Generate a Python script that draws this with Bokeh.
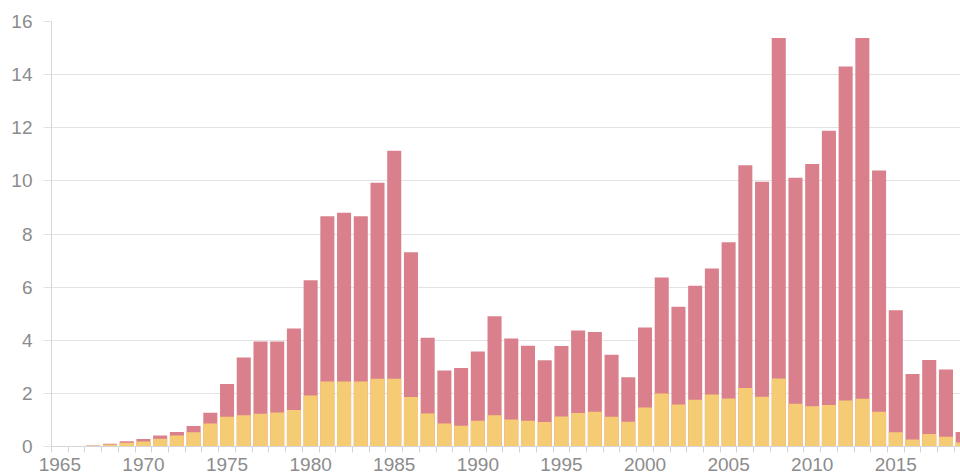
from bokeh.plotting import figure
from bokeh.models import Range1d, FixedTicker, ColumnDataSource
from bokeh.embed import file_html
from bokeh.resources import INLINE

years = list(range(1965, 2020))
yellow = [0, 0, 0.03, 0.08, 0.14, 0.19, 0.29, 0.41, 0.54, 0.87,
          1.12, 1.18, 1.23, 1.28, 1.37, 1.92, 2.45, 2.45, 2.45, 2.55,
          2.55, 1.86, 1.24, 0.87, 0.78, 0.97, 1.18, 1.02, 0.97, 0.92,
          1.13, 1.26, 1.31, 1.12, 0.93, 1.47, 2.0, 1.58, 1.76, 1.96,
          1.81, 2.2, 1.87, 2.56, 1.61, 1.52, 1.56, 1.73, 1.8, 1.31,
          0.54, 0.26, 0.47, 0.37, 0.15]
total = [0, 0, 0.04, 0.1, 0.2, 0.28, 0.41, 0.55, 0.77, 1.27,
         2.35, 3.35, 3.95, 3.95, 4.44, 6.26, 8.67, 8.8, 8.67, 9.93,
         11.13, 7.31, 4.09, 2.86, 2.96, 3.58, 4.9, 4.07, 3.79, 3.25,
         3.78, 4.37, 4.31, 3.45, 2.61, 4.48, 6.36, 5.26, 6.05, 6.7,
         7.69, 10.59, 9.97, 15.38, 10.12, 10.64, 11.89, 14.31, 15.38, 10.39,
         5.13, 2.73, 3.26, 2.9, 0.55]
label_years = [1965, 1970, 1975, 1980, 1985, 1990, 1995, 2000, 2005, 2010, 2015]
y_ticks = [0, 2, 4, 6, 8, 10, 12, 14, 16]

src = ColumnDataSource(dict(x=years, y=yellow, t=total))

p = figure(width=960, height=473, output_backend="svg", toolbar_location=None,
           x_range=Range1d(1964.5, 2018.87), y_range=Range1d(0, 16),
           min_border_left=51, min_border_right=0, min_border_top=21, min_border_bottom=27)

p.vbar(x="x", bottom=0, top="t", width=0.84, source=src, fill_color="#D9808C", line_color=None)
p.vbar(x="x", bottom=0, top="y", width=0.84, source=src, fill_color="#F5CC73", line_color=None)

p.outline_line_color = None
p.background_fill_color = "white"
p.border_fill_color = "white"

p.xgrid.grid_line_color = None
p.ygrid.grid_line_color = "#e3e3e3"
p.ygrid.grid_line_width = 1

p.xaxis.ticker = FixedTicker(ticks=label_years, minor_ticks=[y - 0.5 for y in years])
p.xaxis.major_tick_line_color = None
p.xaxis.minor_tick_line_color = "#d0d4dc"
p.xaxis.minor_tick_in = 0
p.xaxis.minor_tick_out = 6
p.xaxis.axis_line_color = "#d6d6d6"
p.xaxis.major_label_standoff = 5

p.yaxis.ticker = FixedTicker(ticks=y_ticks)
p.yaxis.minor_tick_line_color = None
p.yaxis.major_tick_line_color = "#e3e3e3"
p.yaxis.major_tick_in = 0
p.yaxis.major_tick_out = 8
p.yaxis.axis_line_color = "#d6d6d6"
p.yaxis.major_label_standoff = 11

for ax in (p.xaxis, p.yaxis):
    ax.major_label_text_font = "Liberation Sans"
    ax.major_label_text_font_size = "19px"
    ax.major_label_text_color = "#8c8c8c"

open("out.html", "w").write(file_html(p, INLINE))
